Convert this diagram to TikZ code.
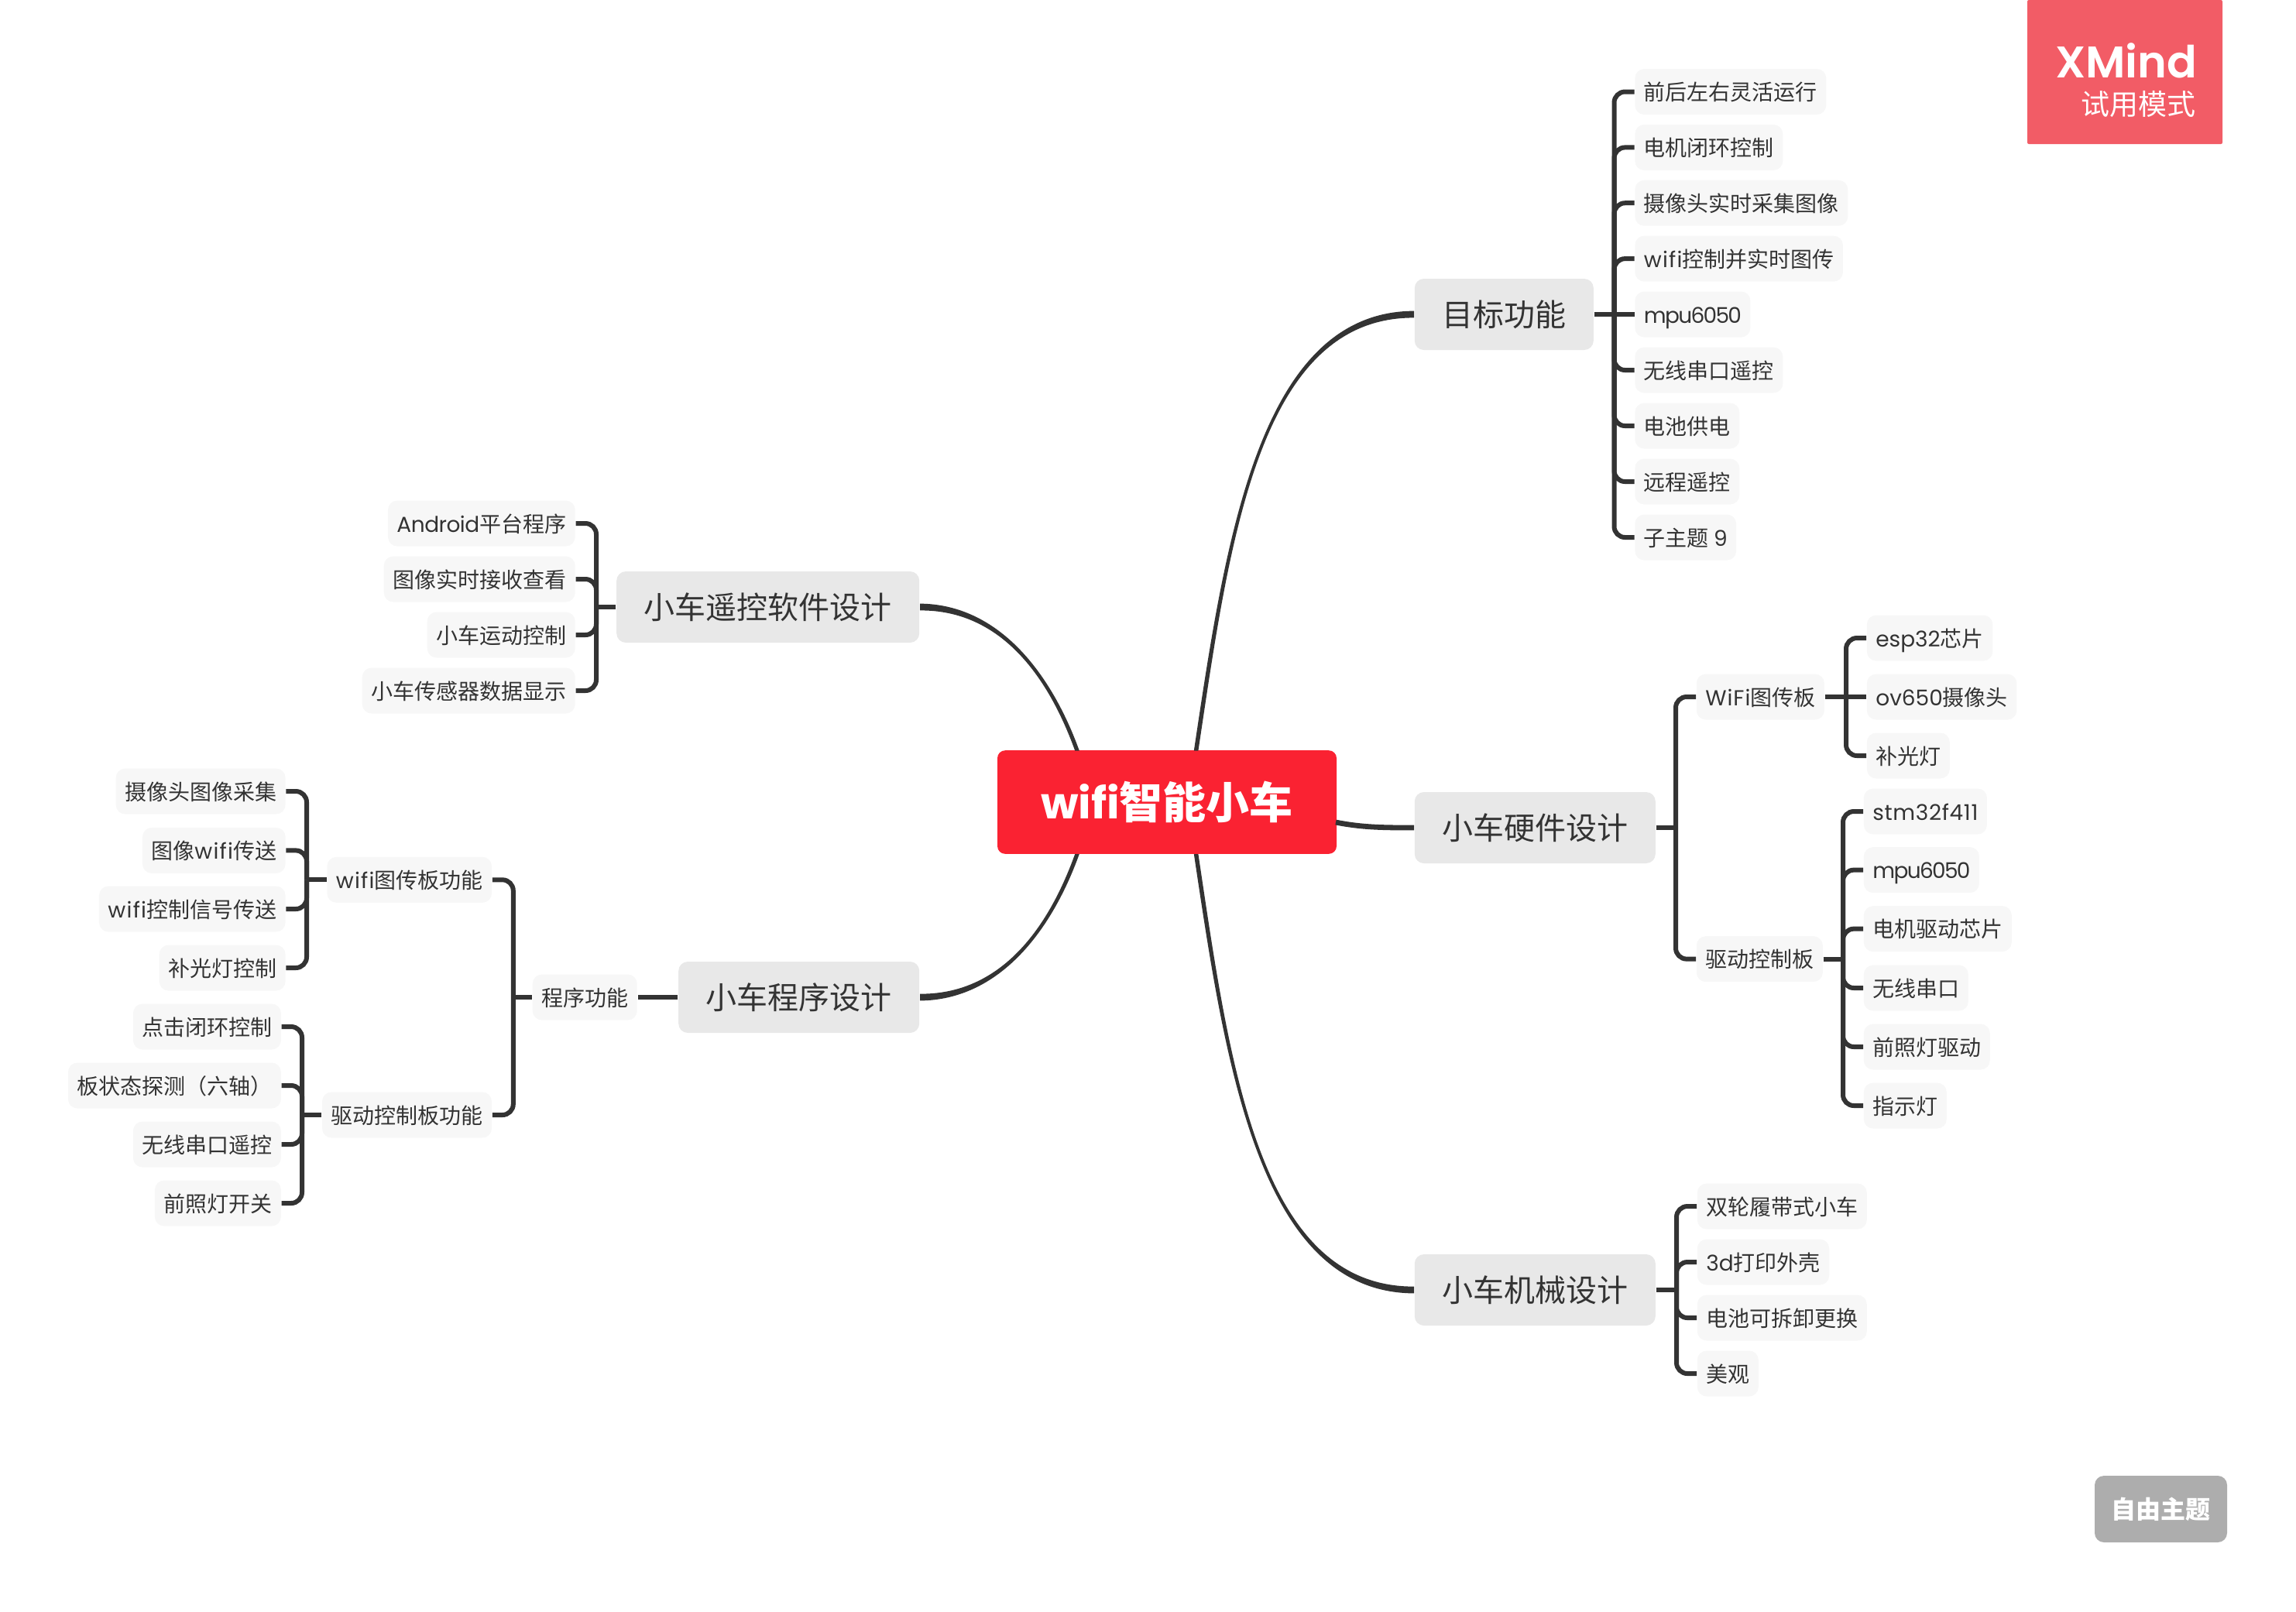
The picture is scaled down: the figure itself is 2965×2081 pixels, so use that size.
\documentclass[tikz,border=0pt]{standalone}
\usepackage{fontspec}
\setmainfont{Noto Sans CJK SC}
\newfontfamily\latfont{Poppins}
\newfontfamily\brandfont{Poppins SemiBold}
\newcommand{\la}[2][0]{{\latfont\addfontfeature{LetterSpace=#1}#2}}
\definecolor{linegray}{HTML}{333333}
\definecolor{leafgray}{HTML}{F7F7F7}
\definecolor{topicgray}{HTML}{E8E8E8}
\definecolor{rootred}{HTML}{FA2232}
\definecolor{badgered}{HTML}{F25C66}
\definecolor{themegray}{HTML}{ADADAD}
% tapered curve from a topic box to the centre box
\newcommand{\rootlink}[5]{\fill[linegray] ([yshift=1.1pt]#1) .. controls ([yshift=.9pt]#2) and ([xshift=#5*.7pt]#3) .. ([xshift=#5*.7pt]#4) -- ([xshift=-#5*.7pt]#4) .. controls ([xshift=-#5*.7pt]#3) and ([yshift=-.9pt]#2) .. ([yshift=-1.1pt]#1) -- cycle;}

\begin{document}
\begin{tikzpicture}[x=0.25pt,y=-0.25pt,
    text=linegray,
    leaf node/.style={rectangle,fill=leafgray,rounded corners=3pt,inner xsep=2.875pt,inner ysep=0pt,minimum height=14.75pt,text height=6.3pt,text depth=.7pt,font=\fontsize{7}{8}\selectfont},
    topic node/.style={rectangle,fill=topicgray,rounded corners=3pt,inner xsep=8.875pt,inner ysep=0pt,minimum height=23pt,text height=8.8pt,text depth=1.2pt,font=\fontsize{10}{12}\selectfont},
    root node/.style={rectangle,fill=rootred,text=white,rounded corners=2.5pt,inner sep=0pt,minimum width=109.5pt,minimum height=33.4pt,text height=12.3pt,text depth=1.7pt,font=\fontsize{14}{16}\selectfont\bfseries},
    bracket/.style={draw=linegray,line width=1.5pt,rounded corners=3.5pt},
    elbow/.style={to path={|- (\tikztotarget)}}]

  \useasboundingbox (0,0) rectangle (2965,2081);

  \node[root node] at (1507,1036) (root) {\la{wifi}智能小车};
  \coordinate (roottl) at (1391,969.5);
  \coordinate (roottr) at (1544.6,969.5);
  \coordinate (rootbl) at (1391,1103);
  \coordinate (rootbr) at (1544.6,1103);

  \node[topic node,anchor=west] at (1826,406) (goal) {目标功能};
  \node[topic node,anchor=west] at (1826,1069) (hardware) {小车硬件设计};
  \node[topic node,anchor=west] at (1826,1666) (mech) {小车机械设计};
  \node[topic node,anchor=east] at (1188,784) (remote) {小车遥控软件设计};
  \node[topic node,anchor=east] at (1188,1288) (program) {小车程序设计};

  % goal
  \node[leaf node,anchor=west] at (2110.5,118.5) (g1) {前后左右灵活运行};
  \node[leaf node,anchor=west] at (2110.5,190.4) (g2) {电机闭环控制};
  \node[leaf node,anchor=west] at (2110.5,262.2) (g3) {摄像头实时采集图像};
  \node[leaf node,anchor=west] at (2110.5,334.1) (g4) {\la[4.4]{wifi}控制并实时图传};
  \node[leaf node,anchor=west] at (2110.5,406) (g5) {\la[-6]{mpu6050}};
  \node[leaf node,anchor=west] at (2110.5,478) (g6) {无线串口遥控};
  \node[leaf node,anchor=west] at (2110.5,550) (g7) {电池供电};
  \node[leaf node,anchor=west] at (2110.5,622) (g8) {远程遥控};
  \node[leaf node,anchor=west] at (2110.5,694) (g9) {子主题 \la{9}};
  \coordinate (goaljoin) at (2084.5,406);

  % hardware
  \node[leaf node,anchor=west] at (2190,900) (wifiboard) {\la[3.4]{WiFi}图传板};
  \node[leaf node,anchor=west] at (2190,1238.6) (driveboard) {驱动控制板};
  \coordinate (hwjoin) at (2164,1069);
  \node[leaf node,anchor=west] at (2410,824) (w1) {\la{esp32}芯片};
  \node[leaf node,anchor=west] at (2410,900) (w2) {\la{ov650}摄像头};
  \node[leaf node,anchor=west] at (2410,976) (w3) {补光灯};
  \coordinate (wifijoin) at (2384,900);
  \node[leaf node,anchor=west] at (2406,1048) (d1) {\la[2.3]{stm32f411}};
  \node[leaf node,anchor=west] at (2406,1123.6) (d2) {\la[-6]{mpu6050}};
  \node[leaf node,anchor=west] at (2406,1199.6) (d3) {电机驱动芯片};
  \node[leaf node,anchor=west] at (2406,1276) (d4) {无线串口};
  \node[leaf node,anchor=west] at (2406,1352) (d5) {前照灯驱动};
  \node[leaf node,anchor=west] at (2406,1428) (d6) {指示灯};
  \coordinate (drivejoin) at (2380,1238.6);

  % mech
  \node[leaf node,anchor=west] at (2191,1558) (m1) {双轮履带式小车};
  \node[leaf node,anchor=west] at (2191,1630) (m2) {\la{3d}打印外壳};
  \node[leaf node,anchor=west] at (2191,1702) (m3) {电池可拆卸更换};
  \node[leaf node,anchor=west] at (2191,1774) (m4) {美观};
  \coordinate (mechjoin) at (2165,1666);

  % remote
  \node[leaf node,anchor=east] at (743.5,676) (r1) {\la[-1.9]{Android}平台程序};
  \node[leaf node,anchor=east] at (743.5,748) (r2) {图像实时接收查看};
  \node[leaf node,anchor=east] at (743.5,820) (r3) {小车运动控制};
  \node[leaf node,anchor=east] at (743.5,892) (r4) {小车传感器数据显示};
  \coordinate (remotejoin) at (770,784);

  % program
  \node[leaf node,anchor=east] at (823.5,1288) (progfunc) {程序功能};
  \coordinate (progjoin) at (662.8,1288);
  \node[leaf node,anchor=east] at (635.8,1136.3) (wififunc) {\la[4.4]{wifi}图传板功能};
  \node[leaf node,anchor=east] at (635.8,1440) (drivefunc) {驱动控制板功能};
  \node[leaf node,anchor=east] at (369.4,1022) (p1) {摄像头图像采集};
  \node[leaf node,anchor=east] at (369.4,1098.4) (p2) {图像\la[4.4]{wifi}传送};
  \node[leaf node,anchor=east] at (369.4,1174) (p3) {\la[4.4]{wifi}控制信号传送};
  \node[leaf node,anchor=east] at (369.4,1250) (p4) {补光灯控制};
  \coordinate (wififuncjoin) at (396,1136.3);
  \node[leaf node,anchor=east] at (363.7,1326) (q1) {点击闭环控制};
  \node[leaf node,anchor=east] at (363.7,1402) (q2) {板状态探测（六轴）};
  \node[leaf node,anchor=east] at (363.7,1478) (q3) {无线串口遥控};
  \node[leaf node,anchor=east] at (363.7,1554) (q4) {前照灯开关};
  \coordinate (drivefuncjoin) at (390,1440);

  % corner marks
  \node[rectangle,fill=badgered,rounded corners=.5pt,minimum width=63pt,minimum height=46.5pt,inner sep=0pt] at (2744,93) (badge) {};
  \node[anchor=east,inner sep=0pt,text=white,font=\fontsize{14.3}{16}\selectfont\brandfont] at (2838,78) (brand) {XMind};
  \node[anchor=east,inner sep=0pt,text=white,font=\fontsize{9.25}{11}\selectfont] at (2836,135) (trial) {试用模式};
  \node[rectangle,fill=themegray,text=white,rounded corners=3pt,minimum width=42.75pt,minimum height=21.5pt,inner sep=0pt,font=\fontsize{8}{10}\selectfont\bfseries] at (2790.5,1949) (theme) {自由主题};

  \rootlink{goal.west}{1625,406}{1585,700}{roottr}{-1}
  \rootlink{mech.west}{1625,1666}{1585,1373}{rootbr}{1}
  \rootlink{remote.east}{1290,784}{1355,870}{roottl}{1}
  \rootlink{program.east}{1290,1288}{1355,1203}{rootbl}{-1}
  \draw[linegray,line width=1.7pt] (1725,1062) .. controls (1760,1069) and (1790,1069) .. (hardware.west);

  \path[bracket]
    (goal) edge (goaljoin)
    (goaljoin) edge[elbow] (g1) edge[elbow] (g2) edge[elbow] (g3) edge[elbow] (g4) edge (g5)
    edge[elbow] (g6) edge[elbow] (g7) edge[elbow] (g8) edge[elbow] (g9)
    (hardware) edge (hwjoin)
    (hwjoin) edge[elbow] (wifiboard) edge[elbow] (driveboard)
    (wifiboard) edge (wifijoin)
    (wifijoin) edge[elbow] (w1) edge (w2) edge[elbow] (w3)
    (driveboard) edge (drivejoin)
    (drivejoin) edge[elbow] (d1) edge[elbow] (d2) edge[elbow] (d3) edge[elbow] (d4) edge[elbow] (d5) edge[elbow] (d6)
    (mech) edge (mechjoin)
    (mechjoin) edge[elbow] (m1) edge[elbow] (m2) edge[elbow] (m3) edge[elbow] (m4)
    (remote) edge (remotejoin)
    (remotejoin) edge[elbow] (r1) edge[elbow] (r2) edge[elbow] (r3) edge[elbow] (r4)
    (program) edge (progfunc)
    (progfunc) edge (progjoin)
    (progjoin) edge[elbow] (wififunc) edge[elbow] (drivefunc)
    (wififunc) edge (wififuncjoin)
    (wififuncjoin) edge[elbow] (p1) edge[elbow] (p2) edge[elbow] (p3) edge[elbow] (p4)
    (drivefunc) edge (drivefuncjoin)
    (drivefuncjoin) edge[elbow] (q1) edge[elbow] (q2) edge[elbow] (q3) edge[elbow] (q4)
    ;

\end{tikzpicture}
\end{document}
